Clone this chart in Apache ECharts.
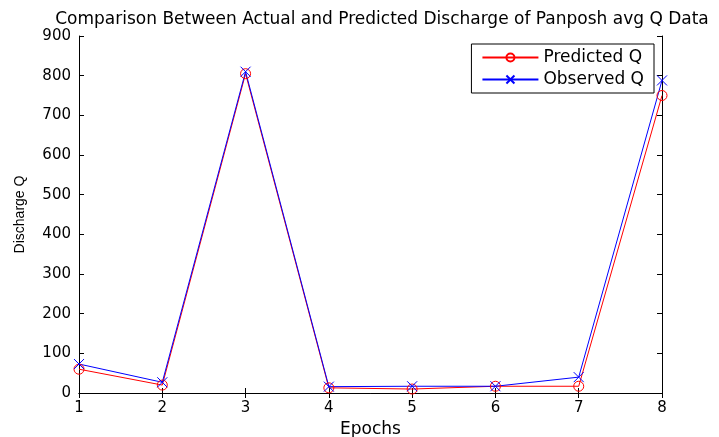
<!DOCTYPE html>
<html><head><meta charset="utf-8">
<script src="https://cdn.jsdelivr.net/npm/echarts@6/dist/echarts.min.js"></script>
<style>html,body{margin:0;padding:0;background:#fff}#c{width:719px;height:437px}</style>
</head><body><div id="c"></div>
<script>
const epochs = [1, 2, 3, 4, 5, 6, 7, 8];
const predictedQ = [60, 20, 805, 13, 10, 17, 17, 750];
const observedQ = [73, 27, 810, 16, 17, 17, 40, 788];
const yTicks = [0, 100, 200, 300, 400, 500, 600, 700, 800, 900];

const W = 'DejaVu Sans, sans-serif';
const L = 'Liberation Sans, Arial, sans-serif';
const RED = '#ff0000', BLUE = '#0000ff';
const chart = echarts.init(document.getElementById('c'));
const axisLine = {show: true, lineStyle: {color: '#000', width: 1}};
const tick = {show: true, inside: true, length: 5, lineStyle: {color: '#000'}};
chart.setOption({
  animation: false,
  backgroundColor: '#fff',
  color: [RED, BLUE],
  title: {text: 'Comparison Between Actual and Predicted Discharge of Panposh avg Q Data',
    left: 377, top: 6, textAlign: 'center',
    textStyle: {fontFamily: W, fontSize: 17, fontWeight: 'normal', color: '#000'}},
  legend: {
    right: 65, top: 44, orient: 'vertical', backgroundColor: '#fff',
    borderColor: '#000', borderWidth: 1, padding: [5, 10, 5, 10], itemGap: 5,
    itemWidth: 56, itemHeight: 10,
    textStyle: {fontFamily: W, fontSize: 17, color: '#000', lineHeight: 17},
    data: ['Predicted Q', 'Observed Q']
  },
  grid: {left: 79, right: 57, top: 36, bottom: 44, outerBoundsMode: 'none', containLabel: false},
  xAxis: [{
    type: 'value', min: 1, max: 8, interval: 1, name: 'Epochs', nameLocation: 'middle', nameGap: 25,
    nameTextStyle: {fontFamily: W, fontSize: 17, color: '#000'},
    axisLine, axisTick: tick, splitLine: {show: false},
    axisLabel: {fontFamily: W, fontSize: 15, color: '#000', margin: 8}
  }, {
    type: 'value', min: 1, max: 8, interval: 1, position: 'top',
    axisLine, axisTick: tick, splitLine: {show: false}, axisLabel: {show: false}
  }],
  yAxis: [{
    type: 'value', min: yTicks[0], max: yTicks[yTicks.length - 1], interval: 100,
    name: 'Discharge Q', nameLocation: 'middle', nameGap: 52,
    nameTextStyle: {fontFamily: L, fontSize: 14, color: '#000'},
    axisLine, axisTick: tick, splitLine: {show: false},
    axisLabel: {fontFamily: W, fontSize: 15, color: '#000', margin: 8}
  }, {
    type: 'value', min: yTicks[0], max: yTicks[yTicks.length - 1], interval: 100, position: 'right',
    axisLine, axisTick: tick, splitLine: {show: false}, axisLabel: {show: false}
  }],
  series: [{
    name: 'Predicted Q', type: 'line', color: RED,
    data: epochs.map((e, i) => [e, predictedQ[i]]),
    symbol: 'circle', symbolSize: 10, showAllSymbol: true,
    lineStyle: {color: RED, width: 1},
    itemStyle: {color: 'rgba(0,0,0,0)', borderColor: RED, borderWidth: 1}
  }, {
    name: 'Observed Q', type: 'line', color: BLUE,
    data: epochs.map((e, i) => [e, observedQ[i]]),
    symbol: 'path://M0,0L10,10M10,0L0,10', symbolSize: 10, showAllSymbol: true,
    lineStyle: {color: BLUE, width: 1},
    itemStyle: {color: 'rgba(0,0,0,0)', borderColor: BLUE, borderWidth: 1}
  }]
});
</script></body></html>
